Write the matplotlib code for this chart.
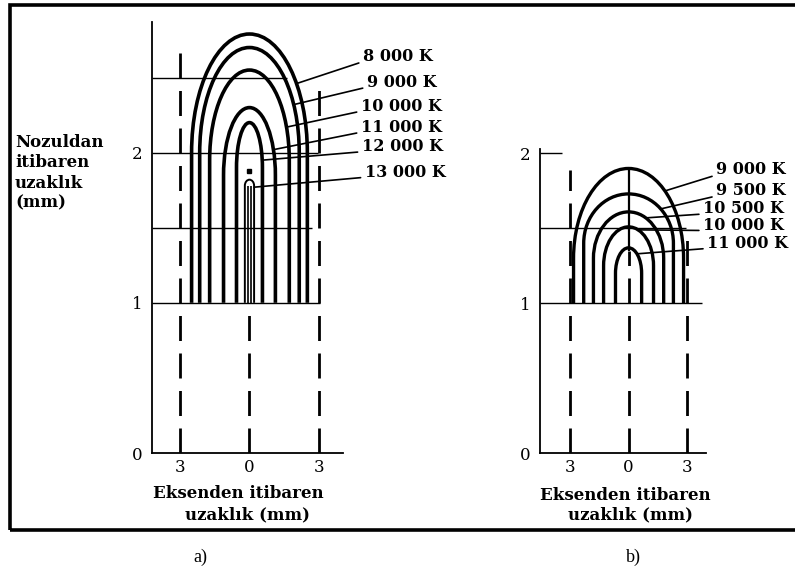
import matplotlib.pyplot as plt
from matplotlib.patches import Rectangle, PathPatch
from matplotlib.path import Path
import numpy as np

# a) izotermler (mm)
temps_a = ['8 000 K', '9 000 K', '10 000 K', '11 000 K', '12 000 K', '13 000 K']
hw_a = [2.50, 2.15, 1.72, 1.12, 0.56, 0.20]     # tabandaki yari genislik
knee_a = [2.00, 2.00, 1.95, 1.85, 1.90, 1.78]   # dik kenarin bittigi yukseklik
peak_a = [2.79, 2.70, 2.55, 2.30, 2.20, 1.82]   # tepe yuksekligi
hit_a = [2.46, 2.32, 2.17, 2.02, 1.95, 1.77]    # etiket cizgisinin degdigi yukseklik

# b) izotermler (mm)
temps_b = ['9 000 K', '9 500 K', '10 500 K', '10 000 K', '11 000 K']
hw_b = [2.82, 2.30, 1.80, 1.28, 0.67]
knee_b = [1.30, 1.40, 1.30, 1.25, 1.20]
peak_b = [1.90, 1.73, 1.61, 1.51, 1.37]
hit_b = [1.75, 1.63, 1.57, 1.49, 1.33]

yticks = [0, 1, 2]
xticks = [-3, 0, 3]
xticklabels = ['3', '0', '3']

W, H = 795, 581
SERIF = 'DejaVu Serif'
K = 0.5523  # ceyrek elips icin bezier katsayisi


def px(x, y):
    return x / W, 1 - y / H


def arch_x(hw, knee, peak, y):
    if y <= knee:
        return hw
    return hw * np.sqrt(max(0.0, 1 - ((y - knee) / (peak - knee)) ** 2))


def kemer(ax, hw, knee, peak, lw=2.6):
    # dik kenar + yarim elips kubbe, tek parca yol
    h = peak - knee
    verts = [(-hw, 1), (-hw, knee),
             (-hw, knee + K * h), (-K * hw, peak), (0, peak),
             (K * hw, peak), (hw, knee + K * h), (hw, knee),
             (hw, 1)]
    codes = [Path.MOVETO, Path.LINETO,
             Path.CURVE4, Path.CURVE4, Path.CURVE4,
             Path.CURVE4, Path.CURVE4, Path.CURVE4,
             Path.LINETO]
    ax.add_patch(PathPatch(Path(verts, codes), fill=False, lw=lw,
                           edgecolor='k', joinstyle='round'))


def eksen(ax):
    for s in ['top', 'right']:
        ax.spines[s].set_visible(False)
    for s in ['left', 'bottom']:
        ax.spines[s].set_linewidth(1.3)
    ax.set_yticks(yticks)
    ax.set_xticks(xticks)
    ax.set_xticklabels(xticklabels)
    ax.tick_params(axis='y', length=0, pad=7, labelsize=12)
    ax.tick_params(axis='x', length=0, pad=4, labelsize=12)
    for t in ax.get_xticklabels() + ax.get_yticklabels():
        t.set_family(SERIF)
    ax.set_facecolor('none')


dash = (0, (9, 4.5))
lbl = dict(family=SERIF, fontsize=12, fontweight='bold')

fig = plt.figure(figsize=(W / 100, H / 100), dpi=100)

# cerceve
x0, y0 = px(10, 530)
fig.add_artist(Rectangle((x0, y0), 1.05, (530 - 5) / H, transform=fig.transFigure,
                         fill=False, lw=2.6, color='k'))

# ---------- a ----------
axa = fig.add_axes([152 / W, 1 - 453 / H, 191 / W, 431 / H])
axa.set_xlim(-4.21, 4.04)
axa.set_ylim(0, 2.87)
eksen(axa)

axa.hlines([1, 1.5, 2, 2.5], -4.21, [3.04, 2.70, 2.97, 1.62], color='k', lw=1.0)
axa.vlines(-3, 0, 2.67, color='k', lw=2, linestyles=[dash])
axa.vlines(3, 0, 2.50, color='k', lw=2, linestyles=[dash])
axa.vlines(0, 0, 1.0, color='k', lw=2, linestyles=[dash])

for i in range(len(temps_a)):
    lw = 2.6 if i < 5 else 1.4
    kemer(axa, hw_a[i], knee_a[i], peak_a[i], lw)
axa.vlines([-0.08, 0.08], 1, 1.78, color='k', lw=1.2)
axa.plot([0.0], [1.88], marker='s', ms=3, color='k')

lab_x_a = [4.90, 5.07, 4.81, 4.81, 4.85, 4.98]
lab_y_a = [2.64, 2.47, 2.31, 2.17, 2.04, 1.87]
for i, t in enumerate(temps_a):
    xh = arch_x(hw_a[i], knee_a[i], peak_a[i], hit_a[i])
    axa.annotate(t, xy=(xh, hit_a[i]), xytext=(lab_x_a[i], lab_y_a[i]),
                 ha='left', va='center', family=SERIF, fontsize=11.5,
                 fontweight='bold', annotation_clip=False,
                 arrowprops=dict(arrowstyle='-', lw=1.2, color='k',
                                 relpos=(0, 0.2), shrinkA=1, shrinkB=0))

fig.text(*px(15, 134), 'Nozuldan\nitibaren\nuzaklık\n(mm)', va='top', ha='left',
         linespacing=1.25, **lbl)
fig.text(*px(153, 493), 'Eksenden itibaren', va='center', ha='left', **lbl)
fig.text(*px(185, 515), 'uzaklık (mm)', va='center', ha='left', **lbl)

# ---------- b ----------
axb = fig.add_axes([540 / W, 1 - 453 / H, 166 / W, 304 / H])
axb.set_xlim(-4.54, 3.97)
axb.set_ylim(0, 2.03)
eksen(axb)

axb.hlines([1, 1.5, 2], -4.54, [3.77, 2.97, -3.4], color='k', lw=1.0)
axb.vlines(-3, 0, 1.89, color='k', lw=2, linestyles=[dash])
axb.vlines(3, 0, 1.47, color='k', lw=2, linestyles=[dash])
axb.vlines(0, 0, 1.35, color='k', lw=2, linestyles=[dash])
axb.vlines(0, 1.35, peak_b[0], color='k', lw=1.6)

for i in range(len(temps_b)):
    kemer(axb, hw_b[i], knee_b[i], peak_b[i], 2.4)

lab_x_b = [4.49, 4.49, 3.82, 3.82, 4.03]
lab_y_b = [1.89, 1.75, 1.63, 1.52, 1.40]
for i, t in enumerate(temps_b):
    xh = arch_x(hw_b[i], knee_b[i], peak_b[i], hit_b[i])
    axb.annotate(t, xy=(xh, hit_b[i]), xytext=(lab_x_b[i], lab_y_b[i]),
                 ha='left', va='center', family=SERIF, fontsize=11.5,
                 fontweight='bold', annotation_clip=False,
                 arrowprops=dict(arrowstyle='-', lw=1.2, color='k',
                                 relpos=(0, 0.2), shrinkA=1, shrinkB=0))

fig.text(*px(540, 495), 'Eksenden itibaren', va='center', ha='left', **lbl)
fig.text(*px(568, 515), 'uzaklık (mm)', va='center', ha='left', **lbl)

fig.text(*px(200, 557), 'a)', family='Liberation Serif', fontsize=13,
         ha='center', va='center')
fig.text(*px(633, 557), 'b)', family='Liberation Serif', fontsize=13,
         ha='center', va='center')

fig.savefig('out.png', dpi=100)
